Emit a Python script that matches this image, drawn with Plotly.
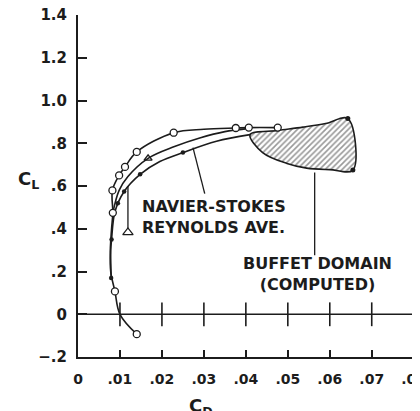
import plotly.graph_objects as go

# ---- data ----
exp_line_cd = [0.0140, 0.0100, 0.0088, 0.0078, 0.0077, 0.0080, 0.0083, 0.0082, 0.0098, 0.0112, 0.0140, 0.0228, 0.0300, 0.0376, 0.0407, 0.0476]
exp_line_cl = [-0.093, 0.0, 0.107, 0.20, 0.30, 0.40, 0.475, 0.58, 0.65, 0.69, 0.76, 0.85, 0.866, 0.872, 0.874, 0.874]
exp_pts_cd = [0.0140, 0.0088, 0.0083, 0.0082, 0.0098, 0.0112, 0.0140, 0.0228, 0.0376, 0.0407, 0.0476]
exp_pts_cl = [-0.093, 0.107, 0.475, 0.58, 0.65, 0.69, 0.76, 0.85, 0.872, 0.874, 0.874]

tri_cd = [0.0083, 0.0098, 0.0119, 0.0167, 0.0230, 0.0290, 0.0350, 0.0400]
tri_cl = [0.475, 0.58, 0.645, 0.73, 0.785, 0.825, 0.855, 0.868]
tri_mark_cd = [0.0167]
tri_mark_cl = [0.73]

dot_cd = [0.0079, 0.0078, 0.0080, 0.0088, 0.0110, 0.0148, 0.0195, 0.0250, 0.0330, 0.0410]
dot_cl = [0.17, 0.30, 0.35, 0.48, 0.575, 0.655, 0.715, 0.757, 0.81, 0.841]
dot_mark_cd = [0.0079, 0.0080, 0.0095, 0.0110, 0.0148, 0.0250]
dot_mark_cl = [0.17, 0.35, 0.52, 0.575, 0.655, 0.757]

buf_up_cd = [0.0410, 0.0476, 0.0536, 0.0590, 0.0643]
buf_up_cl = [0.841, 0.860, 0.876, 0.893, 0.916]
buf_lo_cd = [0.0655, 0.0600, 0.0545, 0.0498, 0.0440, 0.0410]
buf_lo_cl = [0.675, 0.677, 0.684, 0.706, 0.757, 0.841]
buf_end_cd = [0.0643, 0.0655]
buf_end_cl = [0.916, 0.675]

onset_cd = [0.0119, 0.0119]
onset_cl = [0.383, 0.60]

x_ticks = [0, 0.01, 0.02, 0.03, 0.04, 0.05, 0.06, 0.07, 0.08]
x_labels = ["0", ".01", ".02", ".03", ".04", ".05", ".06", ".07", ".08"]
y_ticks = [-0.2, 0, 0.2, 0.4, 0.6, 0.8, 1.0, 1.2, 1.4]
y_labels = ["\u2212.2", "0", ".2", ".4", ".6", ".8", "1.0", "1.2", "1.4"]

INK = "#1c1c1c"
FONT = "DejaVu Sans"

fig = go.Figure()

# zero line with cross ticks
fig.add_trace(go.Scatter(x=[0, 0.0815], y=[0, 0], mode="lines",
                         line=dict(color=INK, width=1.6), hoverinfo="skip"))
fig.add_trace(go.Scatter(x=x_ticks[1:], y=[0] * (len(x_ticks) - 1), mode="markers",
                         marker=dict(symbol="line-ns", size=17, line=dict(color=INK, width=1.6)),
                         hoverinfo="skip"))

# buffet domain
fig.add_trace(go.Scatter(x=buf_up_cd + buf_lo_cd, y=buf_up_cl + buf_lo_cl,
                         mode="lines", fill="toself", line=dict(color=INK, width=1.6),
                         line_shape="spline",
                         fillcolor="rgba(0,0,0,0)",
                         fillpattern=dict(shape="/", fgcolor="#333", bgcolor="white", size=4, solidity=0.4)))
fig.add_trace(go.Scatter(x=buf_end_cd, y=buf_end_cl, mode="markers",
                         marker=dict(color=INK, size=5)))

# lowest curve (dots)
fig.add_trace(go.Scatter(x=dot_cd, y=dot_cl, mode="lines", line_shape="spline",
                         line=dict(color=INK, width=1.6)))
fig.add_trace(go.Scatter(x=dot_mark_cd, y=dot_mark_cl, mode="markers",
                         marker=dict(color=INK, size=4.5)))

# middle curve (triangles)
fig.add_trace(go.Scatter(x=tri_cd, y=tri_cl, mode="lines", line_shape="spline",
                         line=dict(color=INK, width=1.6)))
fig.add_trace(go.Scatter(x=tri_mark_cd, y=tri_mark_cl, mode="markers",
                         marker=dict(symbol="triangle-up-open", color=INK, size=7, line=dict(width=1.4))))

# experimental curve (circles)
fig.add_trace(go.Scatter(x=exp_line_cd, y=exp_line_cl, mode="lines", line_shape="spline",
                         line=dict(color=INK, width=1.6)))
fig.add_trace(go.Scatter(x=exp_pts_cd, y=exp_pts_cl, mode="markers",
                         marker=dict(symbol="circle", color="white", size=7,
                                     line=dict(color=INK, width=1.3))))

# onset marker with triangle
fig.add_trace(go.Scatter(x=onset_cd, y=onset_cl, mode="lines",
                         line=dict(color=INK, width=1.3)))
fig.add_trace(go.Scatter(x=onset_cd[:1], y=onset_cl[:1], mode="markers",
                         marker=dict(symbol="triangle-up", color="white", size=9,
                                     line=dict(color=INK, width=1.3))))

# leader lines
fig.add_shape(type="line", x0=0.0274, y0=0.78, x1=0.0302, y1=0.565,
              line=dict(color=INK, width=1.3))
fig.add_shape(type="line", x0=0.0564, y0=0.664, x1=0.0564, y1=0.276,
              line=dict(color=INK, width=1.3))

fig.add_annotation(x=0.0148, y=0.455, xanchor="left", yanchor="middle",
                   text="NAVIER-STOKES<br>REYNOLDS AVE.", showarrow=False, align="left",
                   font=dict(family=FONT, size=16, color=INK, weight="bold"))
fig.add_annotation(x=0.0571, y=0.19, xanchor="center", yanchor="middle",
                   text="BUFFET DOMAIN<br>(COMPUTED)", showarrow=False, align="center",
                   font=dict(family=FONT, size=16, color=INK, weight="bold"))
fig.add_annotation(xref="paper", yref="paper", x=-0.146, y=0.517, xanchor="center", yanchor="middle",
                   text="C<sub>L</sub>", showarrow=False,
                   font=dict(family=FONT, size=18, color=INK, weight="bold"))
fig.add_annotation(xref="paper", yref="paper", x=0.36, y=-0.105, xanchor="center", yanchor="top",
                   text="C<sub>D</sub>", showarrow=False,
                   font=dict(family=FONT, size=18, color=INK, weight="bold"))

# page body has an 8px margin: figure is 412x403, placed at (8, 8)
fig.update_layout(
    width=412, height=403,
    margin=dict(l=70, r=0, t=7, b=54, autoexpand=False),
    paper_bgcolor="white", plot_bgcolor="white",
    showlegend=False,
    xaxis=dict(range=[0, 0.0815], tickvals=x_ticks, ticktext=x_labels,
               showgrid=False, zeroline=False, showline=True, linecolor=INK, linewidth=2,
               ticks="inside", ticklen=7, tickwidth=1.6, tickcolor=INK,
               ticklabelstandoff=8, ticklabeloverflow="allow", automargin=False,
               tickfont=dict(family=FONT, size=14, color=INK, weight="bold")),
    yaxis=dict(range=[-0.2, 1.401], tickvals=y_ticks, ticktext=y_labels,
               showgrid=False, zeroline=False, showline=True, linecolor=INK, linewidth=2,
               ticks="inside", ticklen=9, tickwidth=1.6, tickcolor=INK,
               ticklabelstandoff=6, ticklabeloverflow="allow", automargin=False,
               tickfont=dict(family=FONT, size=15, color=INK, weight="bold")),
)

fig.write_html("out.html")
